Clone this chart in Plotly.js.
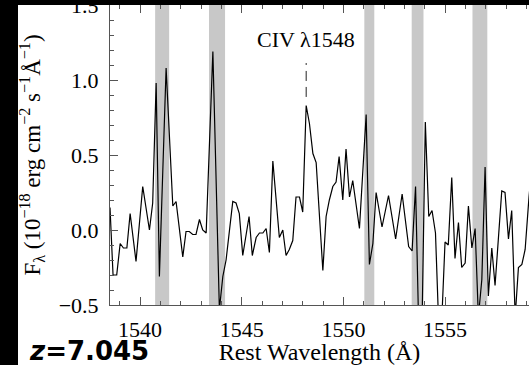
<!DOCTYPE html>
<html>
<head>
<meta charset="utf-8">
<script src="https://cdn.plot.ly/plotly-3.0.1.min.js"></script>
<style>
  html, body { margin: 0; padding: 0; background: #fff; }
  #wrap { position: relative; width: 529px; height: 365px; overflow: hidden; }
  #chart { position: absolute; left: 0; top: 0; width: 529px; height: 365px; }
  .bar { position: absolute; background: #000; pointer-events: none; }
</style>
</head>
<body>
<div id="wrap">
  <div id="chart"></div>
  <div class="bar" style="left:0;top:0;width:18px;height:365px;"></div>
  <div class="bar" style="left:0;top:0;width:529px;height:5px;"></div>
</div>
<script>
// Rest wavelength (Å) of each spectral pixel
const wavelength = [
  1538.52, 1538.67, 1538.85, 1539.02, 1539.18, 1539.35, 1539.51, 1539.80, 1540.13, 1540.46,
  1540.62, 1540.79, 1540.95, 1541.28, 1541.61, 1541.77, 1542.10, 1542.26, 1542.42, 1542.59,
  1542.75, 1542.92, 1543.08, 1543.25, 1543.58, 1543.90, 1544.07, 1544.23, 1544.56, 1544.72,
  1544.88, 1545.05, 1545.36, 1545.52, 1545.71, 1545.87, 1546.04, 1546.20, 1546.36, 1546.53,
  1546.85, 1547.02, 1547.18, 1547.34, 1547.51, 1547.67, 1547.84, 1548.00, 1548.17, 1548.33,
  1548.50, 1548.66, 1548.99, 1549.15, 1549.31, 1549.48, 1549.64, 1549.79, 1549.97, 1550.13,
  1550.30, 1550.46, 1550.79, 1551.12, 1551.28, 1551.45, 1551.61, 1551.90, 1552.22, 1552.57,
  1552.89, 1553.21, 1553.38, 1553.55, 1553.70, 1553.87, 1554.03, 1554.20, 1554.36, 1554.53,
  1554.68, 1554.84, 1555.00, 1555.16, 1555.33, 1555.49, 1555.66, 1555.82, 1555.99, 1556.15,
  1556.32, 1556.48, 1556.64, 1556.81, 1556.97, 1557.13, 1557.30, 1557.46, 1557.79, 1557.95,
  1558.12, 1558.28, 1558.45, 1558.61, 1558.78, 1558.94, 1559.13, 1559.29
];
// Flux density F_lambda (1e-18 erg cm^-2 s^-1 Å^-1)
const flux = [
  0.15, -0.30, -0.30, -0.09, -0.12, -0.12, 0.11, -0.21, 0.29, 0.00,
  0.18, 0.98, -0.31, 1.08, 0.16, 0.19, -0.18, -0.01, -0.01, -0.03,
  -0.03, 0.07, 0.00, -0.02, 1.19, -0.53, -0.31, -0.20, 0.19, 0.18,
  0.11, -0.17, 0.09, -0.17, -0.05, -0.02, -0.02, 0.01, -0.15, 0.46,
  -0.05, 0.00, -0.17, -0.13, -0.07, 0.22, 0.22, 0.12, 0.83, 0.71,
  0.51, 0.45, -0.27, 0.09, 0.20, 0.29, 0.32, 0.49, 0.20, 0.54,
  0.22, 0.33, 0.01, 0.77, -0.23, -0.09, 0.25, 0.02, 0.23, -0.06,
  0.24, -0.11, -0.14, 0.29, -0.62, -0.62, 0.72, 0.09, 0.13, -0.02,
  -0.60, -0.60, -0.08, -0.10, 0.35, -0.19, 0.05, -0.25, -0.22, 0.16,
  -0.12, 0.01, -0.58, -0.33, 0.42, -0.44, -0.12, -0.37, 0.26, 0.25,
  -0.06, 0.13, -0.58, -0.25, -0.23, -0.13, 0.22, 0.45
];
// Masked (sky-line) regions, Å
const maskStart = [1540.74, 1543.39, 1551.03, 1553.36, 1556.35];
const maskEnd   = [1541.43, 1544.18, 1551.52, 1553.94, 1557.08];
// Line marker
const lineLabel = 'CIV λ1548';
const lineWave = 1548.17;
const redshiftLabel = '<i>z</i>=7.045';
const xTickVals = [1540, 1545, 1550, 1555];
const yTickVals = [-0.5, 0.0, 0.5, 1.0, 1.5];

const serif = '"Liberation Serif", "Times New Roman", serif';
const axisCol = '#555';

const shapes = maskStart.map((s, i) => ({
  type: 'rect', xref: 'x', yref: 'paper', x0: s, x1: maskEnd[i], y0: 0, y1: 1,
  fillcolor: '#c8c8c8', line: {width: 0}, layer: 'below'
}));
shapes.push({
  type: 'line', xref: 'x', yref: 'y', x0: lineWave, x1: lineWave, y0: 0.887, y1: 1.113,
  line: {color: '#222', width: 1, dash: '10px,6px'}
});

const trace = {
  x: wavelength, y: flux, type: 'scatter', mode: 'lines',
  line: {color: '#000', width: 1.2}, hoverinfo: 'skip', showlegend: false
};

const layout = {
  width: 529, height: 365,
  margin: {l: 110, r: 0, t: 5, b: 60, pad: 0},
  paper_bgcolor: '#fff', plot_bgcolor: '#fff',
  showlegend: false,
  font: {family: serif, size: 22, color: '#000'},
  xaxis: {
    range: [1538.52, 1559.13], showgrid: false, zeroline: false,
    showline: true, linecolor: axisCol, linewidth: 1, mirror: 'ticks',
    ticks: 'inside', ticklen: 8, tickwidth: 1, tickcolor: axisCol,
    tickmode: 'array', tickvals: xTickVals, ticktext: xTickVals.map(String),
    tickfont: {family: serif, size: 22, color: '#000'},
    minor: {dtick: 1, ticks: 'inside', ticklen: 4, tickcolor: axisCol, tickwidth: 1, showgrid: false},
    ticklabelstandoff: 5,
    title: {text: 'Rest Wavelength (Å)', font: {family: serif, size: 24, color: '#000'}, standoff: 8}
  },
  yaxis: {
    range: [-0.5, 1.5], showgrid: false, zeroline: false,
    showline: true, linecolor: axisCol, linewidth: 1, mirror: false,
    ticks: 'inside', ticklen: 8, tickwidth: 1, tickcolor: axisCol,
    tickmode: 'array', tickvals: yTickVals, ticktext: yTickVals.map(v => v.toFixed(1).replace('-', '\u2212')),
    tickfont: {family: serif, size: 22, color: '#000'},
    minor: {dtick: 0.1, ticks: 'inside', ticklen: 4, tickcolor: axisCol, tickwidth: 1, showgrid: false},
    ticklabelstandoff: 6,
    ticklabeloverflow: 'allow',
    title: {text: 'F<sub>λ</sub> (10<sup>−18</sup> erg cm<sup>−2</sup> s<sup>−1</sup>Å<sup>−1</sup>)',
            font: {family: serif, size: 23, color: '#000'}, standoff: 11}
  },
  shapes: shapes,
  annotations: [
    {text: lineLabel, x: lineWave, y: 1.267, xref: 'x', yref: 'y', showarrow: false,
     font: {family: serif, size: 22, color: '#000'}, xanchor: 'center', yanchor: 'middle'},
    {text: redshiftLabel, xref: 'paper', yref: 'paper', x: (27 - 110) / 419, y: -(351 - 305) / 300,
     xanchor: 'left', yanchor: 'middle', showarrow: false,
     font: {family: '"DejaVu Sans", sans-serif', size: 26, color: '#000', weight: 'bold'}}
  ]
};

Plotly.newPlot('chart', [trace], layout, {staticPlot: true, displayModeBar: false});
</script>
</body>
</html>
